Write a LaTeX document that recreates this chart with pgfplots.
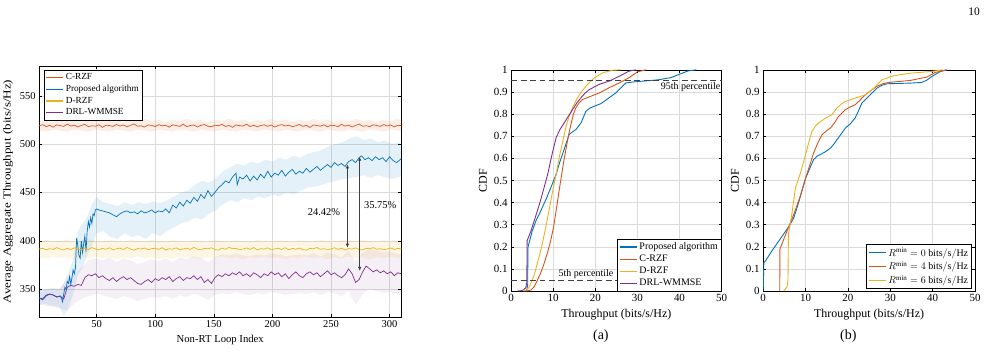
\documentclass[border=0pt]{standalone}
\usepackage{graphicx}
\usepackage{fontspec}
\setmainfont{Liberation Serif}
\usepackage{pgfplots}
\pgfplotsset{compat=1.18}
\usepackage{pgfplotstable}
\usepgfplotslibrary{fillbetween}
\usetikzlibrary{arrows.meta}

\definecolor{mblue}{rgb}{0,0.447,0.741}
\definecolor{morange}{rgb}{0.85,0.325,0.098}
\definecolor{myellow}{rgb}{0.929,0.694,0.125}
\definecolor{mpurple}{rgb}{0.494,0.184,0.556}
\definecolor{mgrid}{gray}{0.86}

\pgfplotstableread{
x c d w
1 519.0 391.5 341
4 520.2 392.4 339
7 518.2 390.8 343
10 519.5 392.0 345
13 517.6 391.2 344
16 520.0 393.0 342
19 519.2 391.6 343
22 518.4 390.5 340
25 520.8 392.3 352
28 518.7 391.0 354
31 519.7 392.8 353
34 517.8 391.4 355
37 519.4 390.6 354
40 520.5 392.5 362
43 518.1 391.1 365
46 519.1 393.1 364
49 518.6 391.7 366
52 520.1 390.7 362
55 517.4 392.2 364
58 519.6 391.3 361
61 519.3 392.9 359
64 518.3 390.9 362
67 520.4 391.8 358
70 518.8 392.6 361
73 519.8 391.0 363
76 517.9 393.2 360
79 519.5 391.5 362
82 520.9 390.4 359
85 518.5 392.1 356
88 519.0 391.6 355
91 517.7 392.7 358
94 519.9 390.8 360
97 519.4 391.9 357
100 518.2 392.4 361
103 520.2 391.2 359
106 518.9 393.0 362
109 519.6 390.6 360
112 517.6 392.0 363
115 520.0 391.4 358
118 519.2 392.8 361
121 518.4 390.9 363
124 520.6 391.7 359
127 518.1 392.5 362
130 519.3 391.1 361
133 519.8 393.3 364
136 517.8 391.5 360
139 519.5 390.7 363
142 520.3 392.3 357
145 518.6 391.8 360
148 518.0 392.9 356
151 519.7 391.0 362
154 519.1 390.5 365
157 520.5 392.6 363
160 518.3 391.3 366
163 519.4 393.4 364
166 517.5 391.9 367
169 519.9 392.2 365
172 519.2 390.8 368
175 518.7 391.6 364
178 520.7 392.7 366
181 518.2 391.2 363
184 519.6 393.1 367
187 517.9 390.6 365
190 519.3 392.0 362
193 520.0 391.5 366
196 518.5 392.8 364
199 519.8 390.9 368
202 517.7 391.7 365
205 519.4 392.4 367
208 520.2 391.1 363
211 518.8 393.0 366
214 519.7 390.7 361
217 518.1 392.2 365
220 519.1 391.4 368
223 520.4 392.6 364
226 518.4 391.0 362
229 519.5 390.5 366
232 517.3 392.3 368
235 519.9 391.8 365
238 519.3 393.2 367
241 518.6 391.3 363
244 520.1 392.0 366
247 518.0 390.8 369
250 519.6 391.6 365
253 519.2 392.9 367
256 518.2 391.2 364
259 520.5 392.5 362
262 518.7 390.6 365
265 519.7 392.1 371
268 517.8 391.5 366
271 519.4 392.8 357
274 520.8 391.0 360
277 518.5 390.7 368
280 519.1 392.4 374
283 518.1 391.7 371
286 520.0 393.1 368
289 519.3 391.3 370
292 518.4 392.0 367
295 520.3 390.9 369
298 518.8 391.6 366
301 519.8 392.7 368
304 517.9 391.1 364
307 519.5 392.3 367
310 519.2 391.8 366
}\lines

\pgfplotstableread{
x clo chi dlo dhi wlo whi
1 514 524 383 400 334 349
7 513 525 382 401 333 350
13 515 523 384 399 332 351
19 514 526 382 400 330 350
25 513 524 383 401 328 362
31 515 525 381 399 335 365
37 514 523 383 400 340 372
43 513 525 382 402 343 380
49 515 524 384 400 345 382
55 514 526 382 399 344 380
61 513 524 383 401 342 383
67 515 525 381 400 340 378
73 514 523 383 399 343 382
79 513 525 382 401 341 380
85 515 524 384 400 338 376
91 514 526 382 399 340 378
97 513 524 383 401 342 381
103 515 525 381 400 341 379
109 514 523 383 399 343 382
115 513 525 382 401 340 378
121 515 524 384 400 344 383
127 514 526 382 399 342 381
133 513 524 383 401 345 384
139 515 525 381 400 343 382
145 514 523 383 399 339 378
151 513 525 382 401 344 383
157 515 524 384 400 346 386
163 514 526 382 399 345 385
169 513 524 383 401 347 387
175 515 525 381 400 345 385
181 514 523 383 399 344 384
187 513 525 382 401 346 386
193 515 524 384 400 345 385
199 514 526 382 399 347 387
205 513 524 383 401 346 386
211 515 525 381 400 344 384
217 514 523 383 399 345 385
223 513 525 382 401 346 386
229 515 524 384 400 345 385
235 514 526 382 399 347 387
241 513 524 383 401 344 384
247 515 525 381 400 347 388
253 514 523 383 399 346 386
259 513 525 382 401 343 383
265 515 524 384 400 348 390
271 514 526 382 399 334 378
277 513 524 383 401 345 388
283 515 525 381 400 350 392
289 514 523 383 399 348 390
295 513 525 382 401 346 388
301 515 524 384 400 347 389
307 514 526 382 399 345 386
310 514 524 383 400 346 387
}\bands

\pgfplotstableread{
x y
1 341
4 340
7 344
10 345
13 344
16 342
19 343
20 341
21 337
22 345
23 352
24 350
25 358
26 356
27 363
28 355
29 362
30 370
31 366
32 372
33 403
34 395
35 385
36 382
37 400
38 388
39 397
40 405
41 389
42 410
43 420
44 414
45 424
46 418
47 428
48 426
49 432
50 433
52 432
55 431
58 430
61 429
64 427
67 425
70 428
73 430
76 431
79 429
82 430
85 428
88 431
91 429
94 430
97 432
100 429
103 431
106 430
109 433
112 429
115 437
118 434
121 440
124 436
127 442
130 439
133 445
136 441
139 448
142 444
145 452
148 446
151 450
154 455
157 458
160 462
163 460
166 466
169 470
170 458
172 466
175 464
178 468
181 462
184 467
187 463
190 469
193 465
196 472
199 466
202 470
205 468
208 473
211 467
214 471
217 474
220 469
223 472
226 470
229 475
232 471
235 474
238 477
241 473
244 476
247 479
250 476
253 481
256 478
259 480
262 477
265 482
268 484
271 481
274 486
276 488
279 484
282 486
285 483
288 487
291 484
294 486
297 482
300 487
303 483
306 481
309 484
310 485
}\prop

\pgfplotstableread{
x lo hi
1 334 348
6 335 350
12 333 351
18 332 350
22 322 356
26 330 368
30 345 380
34 365 410
38 372 418
42 385 425
46 395 438
50 408 445
56 410 440
62 404 438
68 402 436
74 408 440
80 404 437
86 406 440
92 402 438
98 408 441
104 405 439
110 410 442
116 414 446
122 418 450
128 420 452
134 424 458
140 422 462
146 428 460
152 432 465
158 438 472
164 442 476
170 440 480
176 444 478
182 442 482
188 446 480
194 444 484
200 448 482
206 446 486
212 450 484
218 448 488
224 452 486
230 455 490
236 456 492
242 458 494
248 460 498
254 462 500
260 464 502
266 465 506
272 466 508
278 468 504
284 465 506
290 468 502
296 466 504
302 464 500
308 466 502
310 467 500
}\pband

\pgfplotsset{
  mat/.style={
    scale only axis,
    anchor=south west,
    axis line style={black, line width=0.5pt},
    tick align=inside,
    tick style={black, line width=0.5pt},
    major tick length=3pt,
    grid=major,
    grid style={mgrid, line width=0.5pt},
    /pgf/number format/assume math mode=true,
    legend cell align=left,
    legend image code/.code={\draw[#1, line width=1.3pt] (0cm,0cm) -- (0.6cm,0cm);},
  },
  cdf/.style={
    mat,
    width=211pt, height=221.7pt,
    xmin=0, xmax=50, ymin=0, ymax=1,
    xtick={0,10,20,30,40,50},
    ytick={0,0.1,0.2,0.3,0.4,0.5,0.6,0.7,0.8,0.9,1},
    ticklabel style={font=\fontsize{11}{13}\selectfont},
    label style={font=\fontsize{12}{14}\selectfont},
    xlabel={Throughput (bits/s/Hz)},
    ylabel={CDF},
    legend style={font=\fontsize{10}{12}\selectfont, anchor=south east, inner sep=1.5pt},
  },
}

\begin{document}
\begin{tikzpicture}
\path (0,0) rectangle (987pt,355pt);

% ---------------- left panel ----------------
\begin{axis}[mat,
  at={(37pt,37pt)},
  width=363pt, height=252pt,
  xmin=1, xmax=310, ymin=321, ymax=581,
  xtick={50,100,150,200,250,300},
  ytick={350,400,450,500,550},
  ticklabel style={font=\fontsize{10.5}{12}\selectfont},
  label style={font=\fontsize{10.7}{12}\selectfont},
  xlabel={Non-RT Loop Index},
  ylabel={\scalebox{1.22}[1]{Average Aggregate Throughput (bits/s/Hz)}},
  legend style={at={(0.013,0.984)}, anchor=north west, inner sep=1.5pt, font=\fontsize{9.3}{11}\selectfont},
]
% bands
\addplot[draw=none, name path=chi, forget plot] table[x=x, y=chi]{\bands};
\addplot[draw=none, name path=clo, forget plot] table[x=x, y=clo]{\bands};
\addplot[morange, fill opacity=0.10, draw=none, forget plot] fill between[of=chi and clo];
\addplot[draw=none, name path=dhi, forget plot] table[x=x, y=dhi]{\bands};
\addplot[draw=none, name path=dlo, forget plot] table[x=x, y=dlo]{\bands};
\addplot[myellow, fill opacity=0.12, draw=none, forget plot] fill between[of=dhi and dlo];
\addplot[draw=none, name path=whi, forget plot] table[x=x, y=whi]{\bands};
\addplot[draw=none, name path=wlo, forget plot] table[x=x, y=wlo]{\bands};
\addplot[mpurple, fill opacity=0.08, draw=none, forget plot] fill between[of=whi and wlo];
\addplot[draw=none, name path=phi, forget plot] table[x=x, y=hi]{\pband};
\addplot[draw=none, name path=plo, forget plot] table[x=x, y=lo]{\pband};
\addplot[mblue, fill opacity=0.10, draw=none, forget plot] fill between[of=phi and plo];
% lines
\addplot[morange, line width=0.7pt, forget plot] table[x=x, y=c]{\lines};
\addplot[mblue, line width=0.7pt, forget plot] table[x=x, y=y]{\prop};
\addplot[myellow, line width=0.7pt, forget plot] table[x=x, y=d]{\lines};
\addplot[mpurple, line width=0.7pt, forget plot] table[x=x, y=w]{\lines};
\addlegendimage{morange}
\addlegendentry{C-RZF}
\addlegendimage{mblue}
\addlegendentry{Proposed algorithm}
\addlegendimage{myellow}
\addlegendentry{D-RZF}
\addlegendimage{mpurple}
\addlegendentry{DRL-WMMSE}
% annotations
\draw[{Latex[length=4pt,width=3.5pt]}-{Latex[length=4pt,width=3.5pt]}, black!75, line width=0.7pt]
  (axis cs:264,479) -- (axis cs:264,393);
\draw[{Latex[length=4pt,width=3.5pt]}-{Latex[length=4pt,width=3.5pt]}, black!75, line width=0.7pt]
  (axis cs:274.5,487) -- (axis cs:274.5,369);
\node[font=\fontsize{10.5}{12}\selectfont] at (axis cs:244,430) {24.42\%};
\node[font=\fontsize{10.5}{12}\selectfont] at (axis cs:292,437) {35.75\%};
\end{axis}

% ---------------- middle panel (a) ----------------
\begin{axis}[cdf,
  at={(510pt,63.3pt)},
  legend style={at={(1,0)}},
]
\addplot[mblue, line width=0.9pt, forget plot] coordinates {
(3.5,0) (3.8,0.01) (3.95,0.03) (4.0,0.197) (5.0,0.27) (5.9,0.317) (7.0,0.36)
(8.3,0.415) (9.5,0.47) (10.7,0.528) (11.6,0.585) (12.6,0.64) (13.8,0.708)
(14.6,0.72) (15.4,0.73) (16.6,0.76) (17.8,0.814) (18.8,0.828) (19.8,0.836)
(21.3,0.847) (22.3,0.86) (23.3,0.874) (24.9,0.896) (26.1,0.919) (27.3,0.941)
(28.9,0.945) (32,0.95) (35,0.955) (38,0.965) (40,0.98) (42,0.995) (44,1)};
\addplot[morange, line width=0.9pt, forget plot] coordinates {
(3.5,0) (4.7,0.004) (5.5,0.02) (6.2,0.047) (7.0,0.08) (7.8,0.122) (8.6,0.17)
(9.4,0.227) (10.1,0.29) (10.7,0.363) (11.3,0.44) (11.9,0.513) (12.5,0.585)
(13.1,0.648) (13.7,0.71) (14.3,0.76) (14.8,0.8) (15.4,0.829) (16.2,0.852)
(17.0,0.866) (19.0,0.881) (21.0,0.896) (23.3,0.919) (25.7,0.941) (28.0,0.964)
(30.0,0.991) (32.0,1)};
\addplot[myellow, line width=0.9pt, forget plot] coordinates {
(3.0,0) (3.4,0.002) (4.2,0.015) (5.0,0.047) (5.6,0.08) (6.2,0.122) (6.8,0.165)
(7.4,0.212) (8.2,0.285) (9.0,0.363) (9.8,0.445) (10.7,0.528) (11.5,0.61)
(12.3,0.678) (13.0,0.74) (13.8,0.791) (14.8,0.838) (15.8,0.874) (16.8,0.903)
(17.8,0.926) (18.8,0.947) (19.8,0.964) (21.7,0.986) (24.0,0.998) (26.0,1)};
\addplot[mpurple, line width=0.9pt, forget plot] coordinates {
(1.5,0) (2.5,0.002) (3.0,0.006) (3.5,0.015) (3.75,0.04) (3.8,0.227) (4.7,0.27)
(5.7,0.33) (6.7,0.39) (7.7,0.458) (8.7,0.528) (9.7,0.615) (10.7,0.693)
(11.6,0.73) (12.6,0.76) (13.6,0.79) (14.6,0.82) (15.6,0.85) (16.6,0.874)
(17.6,0.895) (18.6,0.911) (20.9,0.934) (23.3,0.949) (25.7,0.971) (28.0,0.994)
(29.6,1)};
\addlegendimage{mblue}
\addlegendentry{Proposed algorithm}
\addlegendimage{morange}
\addlegendentry{C-RZF}
\addlegendimage{myellow}
\addlegendentry{D-RZF}
\addlegendimage{mpurple}
\addlegendentry{DRL-WMMSE}
\draw[black!75, line width=0.9pt, dash pattern=on 6pt off 3.5pt] (axis cs:0,0.95) -- (axis cs:50,0.95);
\draw[black!75, line width=0.9pt, dash pattern=on 6pt off 3.5pt] (axis cs:0,0.05) -- (axis cs:50,0.05);
\node[anchor=east, inner sep=1pt, font=\fontsize{10}{12}\selectfont] at (axis cs:50,0.922) {95th percentile};
\node[font=\fontsize{10}{12}\selectfont] at (axis cs:17.8,0.075) {5th percentile};
\end{axis}

% ---------------- right panel (b) ----------------
\begin{axis}[cdf,
  at={(762.7pt,63.3pt)},
  width=212.3pt,
  legend style={at={(0.985,0.01)}},
]
\addplot[mblue, line width=0.9pt, forget plot] coordinates {
(0,0) (0.15,0.128) (0.5,0.135) (2,0.18) (4,0.235) (6,0.29) (7.2,0.33) (8.2,0.39)
(9.1,0.45) (10,0.51) (11,0.555) (11.9,0.594) (12.7,0.61) (13.5,0.617) (14.7,0.63)
(15.9,0.647) (16.7,0.665) (17.4,0.684) (18.4,0.71) (19.4,0.737) (20.6,0.757)
(21.7,0.782) (22.5,0.815) (23.3,0.85) (24.9,0.88) (26.8,0.917) (28,0.93)
(29.2,0.937) (34.7,0.94) (37.4,0.943) (38.6,0.953) (39.8,0.97) (41.8,0.992) (43.3,1)};
\addplot[morange, line width=0.9pt, forget plot] coordinates {
(3.9,0) (3.95,0.19) (5.3,0.256) (7.2,0.346) (8.6,0.42) (10,0.51) (11,0.57)
(11.9,0.624) (12.9,0.67) (13.9,0.707) (15,0.725) (15.9,0.737) (16.9,0.762)
(17.8,0.79) (19.4,0.82) (20.5,0.832) (21.7,0.842) (22.7,0.86) (23.7,0.88)
(25.3,0.905) (26.8,0.925) (28.2,0.937) (29.6,0.943) (34.7,0.952) (38.6,0.967)
(40.6,0.988) (43.3,1)};
\addplot[myellow, line width=0.9pt, forget plot] coordinates {
(4.9,0) (5.65,0.02) (5.85,0.05) (5.95,0.256) (6.8,0.353) (7.6,0.466) (8.8,0.534)
(10,0.617) (10.8,0.675) (11.5,0.722) (12.3,0.745) (13.1,0.76) (14.7,0.782)
(16.2,0.797) (17.4,0.827) (18.4,0.845) (19.4,0.857) (21.7,0.872) (24.1,0.887)
(26.1,0.917) (28,0.955) (30.8,0.973) (34.7,0.985) (39.4,0.992) (42.5,1)};
\addlegendimage{mblue}
\addlegendentry{$R^{\mathrm{min}}=0~\mathrm{bits/s/Hz}$}
\addlegendimage{morange}
\addlegendentry{$R^{\mathrm{min}}=4~\mathrm{bits/s/Hz}$}
\addlegendimage{myellow}
\addlegendentry{$R^{\mathrm{min}}=6~\mathrm{bits/s/Hz}$}
\end{axis}

\node[font=\fontsize{14}{16}\selectfont] at (600pt,18pt) {(a)};
\node[font=\fontsize{14}{16}\selectfont] at (848pt,18pt) {(b)};
\node[font=\fontsize{11.5}{13}\selectfont] at (974pt,343pt) {10};
\end{tikzpicture}
\end{document}
